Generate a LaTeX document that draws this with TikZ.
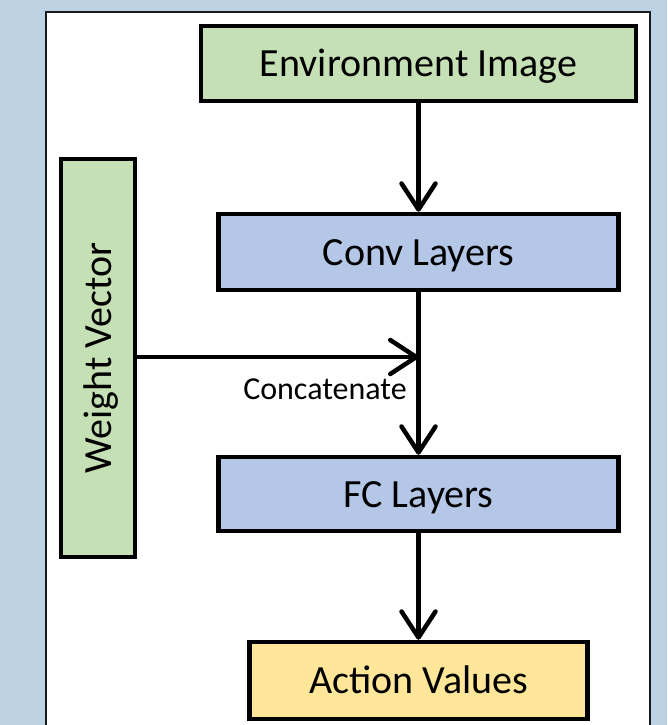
\documentclass[tikz,border=0pt]{standalone}
\usepackage{fontspec}
\setmainfont{Carlito}
\usetikzlibrary{arrows.meta}
\definecolor{bgblue}{HTML}{BDD3E4}
\definecolor{boxgreen}{HTML}{C5E0B4}
\definecolor{boxblue}{HTML}{B4C7E7}
\definecolor{boxyellow}{HTML}{FFE699}
\definecolor{framegray}{HTML}{1A1A1A}
\begin{document}
\begin{tikzpicture}[x=1pt,y=1pt,
  blk/.style={draw=black,line width=4.5pt,inner sep=0pt,text height=26pt,text depth=0pt,font=\fontsize{40}{44}\selectfont},
  conn/.style={line width=4.5pt,-{Straight Barb[length=26pt,width=34pt,line cap=round,line join=round]}}]
\useasboundingbox (0,0) rectangle (667,-725);
\fill[bgblue] (0,0) rectangle (667,-725);
\draw[framegray,fill=white,line width=2pt] (46,-12) rectangle (650,-740);
\node[blk,fill=boxgreen,minimum width=435pt,minimum height=75pt] (env) at (418.5,-63.5) {Environment Image};
\node[blk,fill=boxblue,minimum width=400pt,minimum height=76pt] (conv) at (418.5,-252) {Conv Layers};
\node[blk,fill=boxgreen,minimum width=398pt,minimum height=74pt,rotate=90] (wv) at (98,-358) {Weight Vector};
\node[blk,fill=boxblue,minimum width=400pt,minimum height=74pt] (fc) at (418.5,-494) {FC Layers};
\node[blk,fill=boxyellow,minimum width=338pt,minimum height=77pt] (act) at (418.5,-680.5) {Action Values};
\coordinate (j) at (418.5,-357);
\draw[conn] (env.south) -- (conv.north);
\draw[conn] (conv.south) -- (fc.north);
\draw[conn] (fc.south) -- (act.north);
\draw[conn] (wv.south |- j) -- (j);
\node[font=\fontsize{32}{35}\selectfont,inner sep=0pt] (cat) at (325,-389) {Concatenate};
\end{tikzpicture}
\end{document}
